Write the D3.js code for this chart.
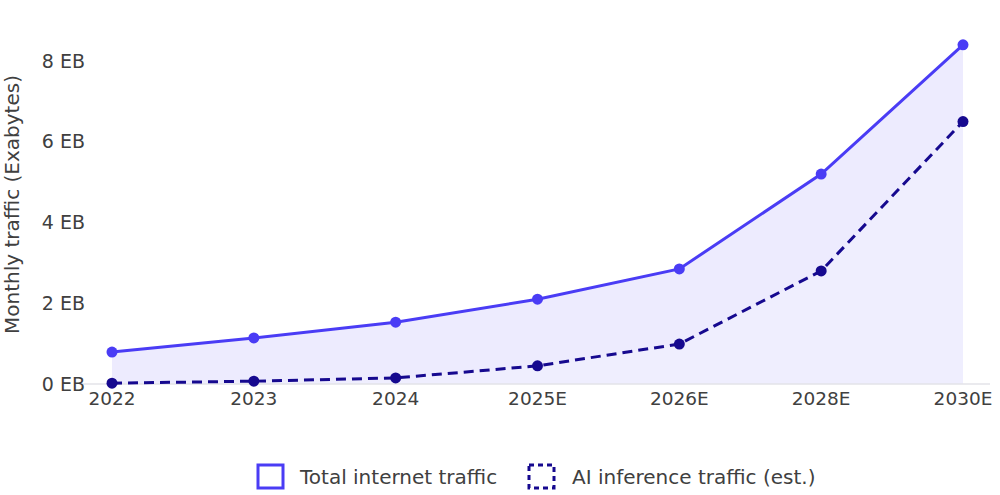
<!DOCTYPE html>
<html>
<head>
<meta charset="utf-8">
<script src="https://cdn.jsdelivr.net/npm/d3@7"></script>
<style>
  body { margin: 0; background: #fff; }
  text { font-family: "DejaVu Sans", sans-serif; }
</style>
</head>
<body>
<svg id="chart"></svg>
<script>
const years = ["2022", "2023", "2024", "2025E", "2026E", "2028E", "2030E"];
const totalTraffic = [0.79, 1.14, 1.53, 2.1, 2.85, 5.2, 8.4];
const aiTraffic = [0.02, 0.07, 0.15, 0.45, 0.99, 2.8, 6.5];
const yTicks = [0, 2, 4, 6, 8];

const width = 1000, height = 495;
const margin = { top: 45, right: 37, bottom: 111, left: 112 };
const totalColor = "#4a3cf5";
const aiColor = "#16098f";
const textColor = "#404040";

const svg = d3.select("#chart").attr("width", width).attr("height", height);

const x = d3.scalePoint()
  .domain(years)
  .range([margin.left, width - margin.right]);

const y = d3.scaleLinear()
  .domain([0, 8])
  .range([384, 61]);

const rows = years.map((d, i) => ({ year: d, total: totalTraffic[i], ai: aiTraffic[i] }));

// areas
const areaTotal = d3.area().x(d => x(d.year)).y0(y(0)).y1(d => y(d.total));
const areaAi = d3.area().x(d => x(d.year)).y0(y(0)).y1(d => y(d.ai));

svg.append("path").datum(rows)
  .attr("d", areaTotal)
  .attr("fill", totalColor)
  .attr("fill-opacity", 0.1);

svg.append("path").datum(rows)
  .attr("d", areaAi)
  .attr("fill", "#ffffff")
  .attr("fill-opacity", 0.15);

// baseline
svg.append("line")
  .attr("x1", 80).attr("x2", 990)
  .attr("y1", y(0)).attr("y2", y(0))
  .attr("stroke", "#e3e3e8").attr("stroke-width", 1.5);

// y axis labels
svg.append("g")
  .selectAll("text")
  .data(yTicks)
  .join("text")
  .attr("x", 85)
  .attr("y", d => y(d))
  .attr("dy", "0.35em")
  .attr("text-anchor", "end")
  .attr("font-size", 19)
  .attr("fill", textColor)
  .text(d => d + " EB");

// x axis labels
svg.append("g")
  .selectAll("text")
  .data(years)
  .join("text")
  .attr("x", d => x(d))
  .attr("y", 405)
  .attr("text-anchor", "middle")
  .attr("font-size", 18.5)
  .attr("fill", textColor)
  .text(d => d);

// y title
svg.append("text")
  .attr("transform", `translate(19, ${y(4) - 18}) rotate(-90)`)
  .attr("text-anchor", "middle")
  .attr("font-size", 20)
  .attr("fill", textColor)
  .text("Monthly traffic (Exabytes)");

// lines
const lineTotal = d3.line().x(d => x(d.year)).y(d => y(d.total));
const lineAi = d3.line().x(d => x(d.year)).y(d => y(d.ai));

svg.append("path").datum(rows)
  .attr("d", lineAi)
  .attr("fill", "none")
  .attr("stroke", aiColor)
  .attr("stroke-width", 3)
  .attr("stroke-dasharray", "10,6");

svg.append("path").datum(rows)
  .attr("d", lineTotal)
  .attr("fill", "none")
  .attr("stroke", totalColor)
  .attr("stroke-width", 3);

svg.append("g").selectAll("circle")
  .data(rows).join("circle")
  .attr("cx", d => x(d.year))
  .attr("cy", d => y(d.ai))
  .attr("r", 5.5)
  .attr("fill", aiColor);

svg.append("g").selectAll("circle")
  .data(rows).join("circle")
  .attr("cx", d => x(d.year))
  .attr("cy", d => y(d.total))
  .attr("r", 5.5)
  .attr("fill", totalColor);

// legend
const legend = svg.append("g");
legend.append("rect")
  .attr("x", 258).attr("y", 465).attr("width", 25).attr("height", 23)
  .attr("fill", "#fff").attr("stroke", totalColor).attr("stroke-width", 3);
legend.append("text")
  .attr("x", 300).attr("y", 477).attr("dy", "0.35em")
  .attr("font-size", 20).attr("fill", textColor)
  .text("Total internet traffic");
legend.append("rect")
  .attr("x", 529).attr("y", 465).attr("width", 25).attr("height", 23)
  .attr("fill", "#fff").attr("stroke", aiColor).attr("stroke-width", 3)
  .attr("stroke-dasharray", "5,4");
legend.append("text")
  .attr("x", 572).attr("y", 477).attr("dy", "0.35em")
  .attr("font-size", 20).attr("fill", textColor)
  .text("AI inference traffic (est.)");
</script>
</body>
</html>
